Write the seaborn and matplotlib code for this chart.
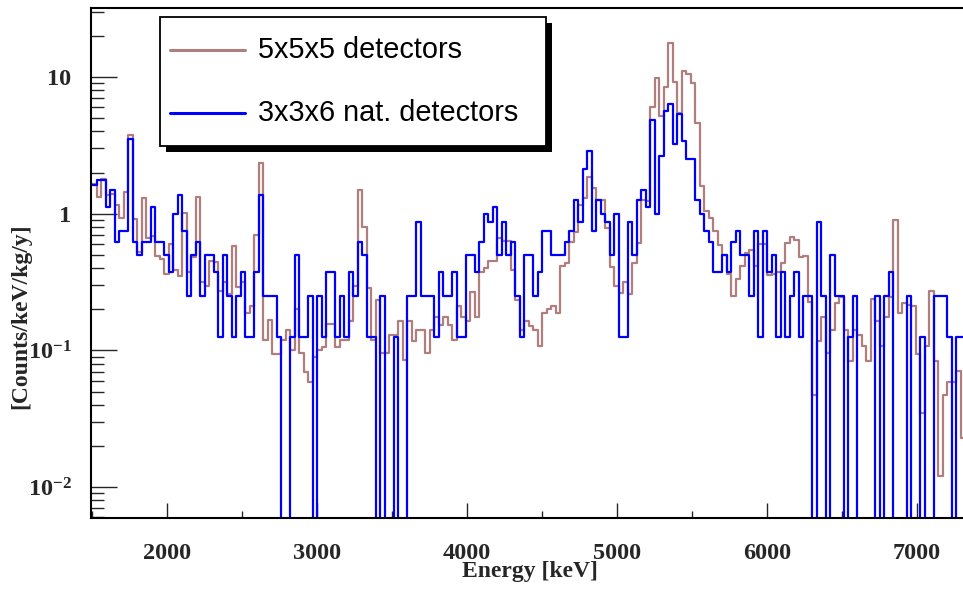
import numpy as np
import pandas as pd
import matplotlib
matplotlib.use("Agg")
import matplotlib.pyplot as plt
import matplotlib.ticker as mticker
from matplotlib.patches import Rectangle
from matplotlib.lines import Line2D
import seaborn as sns

# ---------------- data ----------------
bin_start = 1500.0   # keV, low edge of first bin
bin_width = 30.0     # keV
series_names = ["5x5x5 detectors", "3x3x6 nat. detectors"]

rate_5x5x5 = [
    1.64, 1.33, 1.79, 1.36, 1.39, 1.16, 0.925, 1.45, 3.77, 0.91,
    0.527, 1.30, 0.66, 0.69, 0.49, 0.47, 0.365, 0.60, 0.388, 0.35,
    1.02, 0.377, 0.485, 1.33, 0.318, 0.296, 0.453, 0.446, 0.273, 0.318,
    0.259, 0.58, 0.29, 0.315, 0.188, 0.212, 0.70, 2.34, 0.12, 0.166,
    0.094, 0.094, 0.12, 0.14, 0.10, 0.20, 0.096, 0.07, 0.059, 0.09,
    0.10, 0.106, 0.156, 0.156, 0.106, 0.119, 0.119, 0.165, 0.296, 1.49,
    0.80, 0.285, 0.119, 0.234, 0.096, 0.095, 0.129, 0.129, 0.164, 0.085,
    0.164, 0.118, 0.141, 0.141, 0.095, 0.141, 0.177, 0.153, 0.177, 0.153,
    0.119, 0.211, 0.177, 0.165, 0.269, 0.177, 0.376, 0.40, 0.453, 0.453,
    0.66, 0.63, 0.63, 0.39, 0.234, 0.141, 0.165, 0.15, 0.141, 0.107,
    0.189, 0.20, 0.211, 0.189, 0.417, 0.438, 0.624, 0.738, 1.157, 1.30,
    1.85, 1.53, 1.26, 1.25, 0.78, 0.41, 0.297, 0.262, 0.318, 0.26,
    0.438, 0.614, 1.27, 1.24, 6.06, 9.78, 5.19, 8.49, 17.6, 9.23,
    5.48, 11.1, 10.5, 9.0, 4.63, 1.59, 1.05, 0.925, 0.75, 0.59,
    0.50, 0.36, 0.25, 0.331, 0.414, 0.513, 0.543, 0.414, 0.60, 0.60,
    0.356, 0.36, 0.377, 0.434, 0.607, 0.672, 0.642, 0.485, 0.49, 0.227,
    0.047, 0.118, 0.177, 0.095, 0.141, 0.223, 0.247, 0.141, 0.083, 0.141,
    0.129, 0.108, 0.083, 0.236, 0.165, 0.108, 0.177, 0.247, 0.90, 0.189,
    0.223, 0.214, 0.21, 0.094, 0.035, 0.107, 0.273, 0.083, 0.012, 0.047,
    0.059, 0.059, 0.071, 0.023,
]

rate_3x3x6 = [
    1.625, 1.75, 1.75, 1.125, 1.5, 0.625, 0.75, 0.75, 3.5, 0.625,
    0.5, 0.625, 0.625, 1.125, 0.625, 0.625, 0.5, 0.375, 1.0, 1.375,
    0.75, 0.25, 0.5, 0.625, 0.25, 0.5, 0.5, 0.375, 0.125, 0.5,
    0.25, 0.125, 0.25, 0.375, 0.125, 0.125, 0.375, 1.375, 0.25, 0.25,
    0.25, 0.125, 0.0, 0.0, 0.125, 0.5, 0.125, 0.125, 0.25, 0.0,
    0.25, 0.125, 0.375, 0.375, 0.125, 0.25, 0.125, 0.375, 0.25, 0.625,
    0.5, 0.125, 0.125, 0.0, 0.25, 0.0, 0.0, 0.125, 0.0, 0.0,
    0.25, 0.25, 0.875, 0.25, 0.25, 0.25, 0.125, 0.375, 0.25, 0.25,
    0.375, 0.125, 0.125, 0.5, 0.5, 0.375, 0.625, 1.0, 0.875, 1.125,
    0.5, 0.875, 0.5, 0.625, 0.25, 0.125, 0.5, 0.5, 0.25, 0.375,
    0.75, 0.75, 0.5, 0.5, 0.5, 0.625, 0.75, 1.25, 0.875, 2.125,
    2.875, 0.75, 1.25, 1.0, 0.875, 0.5, 1.0, 0.125, 0.125, 0.875,
    0.5, 1.25, 1.5, 1.125, 4.875, 1.0, 2.625, 5.625, 6.375, 3.25,
    5.375, 3.375, 2.5, 2.5, 1.25, 1.0, 0.75, 0.625, 0.375, 0.375,
    0.5, 0.375, 0.625, 0.75, 0.5, 0.5, 0.25, 0.75, 0.125, 0.75,
    0.375, 0.5, 0.125, 0.375, 0.125, 0.25, 0.375, 0.125, 0.25, 0.25,
    0.0, 0.875, 0.25, 0.0, 0.5, 0.25, 0.25, 0.0, 0.125, 0.25,
    0.0, 0.0, 0.0, 0.0, 0.25, 0.0, 0.25, 0.375, 0.0, 0.0,
    0.0, 0.25, 0.0, 0.0, 0.125, 0.0, 0.0, 0.25, 0.25, 0.25,
    0.125, 0.0, 0.125, 0.125,
]

x_ticks = [2000, 3000, 4000, 5000, 6000, 7000]
y_ticks = [0.01, 0.1, 1, 10]
y_tick_labels = [r"$\mathbf{10^{-2}}$", r"$\mathbf{10^{-1}}$", "1", "10"]
x_label = "Energy [keV]"
y_label = "[Counts/keV/kg/y]"

# ---------------- style ----------------
sns.set_theme(style="white")
plt.rcParams["font.family"] = ["Liberation Serif", "DejaVu Serif"]
plt.rcParams["mathtext.fontset"] = "custom"
plt.rcParams["mathtext.rm"] = "Liberation Serif:bold"
plt.rcParams["mathtext.bf"] = "Liberation Serif:bold"
plt.rcParams["mathtext.it"] = "Liberation Serif:bold"

W, H = 963, 590
fig = plt.figure(figsize=(W / 100, H / 100), dpi=100)
fig.patch.set_facecolor("white")

ax_left, ax_right, ax_top, ax_bottom = 91, 968, 8, 518
ax = fig.add_axes([ax_left / W, (H - ax_bottom) / H,
                   (ax_right - ax_left) / W, (ax_bottom - ax_top) / H])
ax.set_facecolor("white")

colors = ["#b07e7c", "#0000ff"]

n_bins = len(rate_5x5x5)
edges = bin_start + bin_width * np.arange(n_bins + 1)
frames = []
for name, vals in zip(series_names, [rate_5x5x5, rate_3x3x6]):
    v = np.asarray(vals, dtype=float)
    frames.append(pd.DataFrame({
        "energy": edges,
        "rate": np.clip(np.append(v, v[-1]), 1e-4, None),
        "series": name,
    }))
df = pd.concat(frames, ignore_index=True)

for name, col, lw in zip(series_names, colors, [1.6, 1.6]):
    sns.lineplot(data=df[df["series"] == name], x="energy", y="rate",
                 drawstyle="steps-post", color=col, lw=lw, ax=ax,
                 estimator=None, sort=False, legend=False)

ax.set_yscale("log")
px_per_kev = 0.15
x0 = 2000 - (167 - ax_left) / px_per_kev
ax.set_xlim(x0, x0 + (ax_right - ax_left) / px_per_kev)
dec = 136.7
y_one = 213.7
ax.set_ylim(10 ** ((y_one - ax_bottom) / dec), 10 ** ((y_one - ax_top) / dec))

ax.grid(False)
for s in ["left", "bottom", "top"]:
    ax.spines[s].set_visible(True)
    ax.spines[s].set_color("black")
    ax.spines[s].set_linewidth(1.5)
ax.spines["right"].set_visible(False)

ax.set_xticks(x_ticks)
ax.set_xticklabels([str(t) for t in x_ticks])
ax.xaxis.set_minor_locator(mticker.MultipleLocator(500))
ax.set_yticks(y_ticks)
ax.set_yticklabels(y_tick_labels)
ax.yaxis.set_minor_locator(mticker.LogLocator(base=10, subs=np.arange(2, 10)))
ax.yaxis.set_minor_formatter(mticker.NullFormatter())

ax.tick_params(axis="y", which="major", direction="in", length=18.5, width=1.0,
               left=True, right=False, pad=14, labelsize=17.5)
ax.tick_params(axis="y", which="minor", direction="in", length=9.3, width=1.0,
               left=True, right=False)
ax.tick_params(axis="x", which="major", direction="in", length=10.5, width=1.0,
               bottom=True, top=False, pad=18, labelsize=17.5)
ax.tick_params(axis="x", which="minor", direction="in", length=5, width=1.0,
               bottom=True, top=False)
for lab in ax.get_xticklabels() + ax.get_yticklabels():
    lab.set_fontweight("bold")

ax.set_xlabel(x_label, fontsize=17, fontweight="bold", va="center")
ax.xaxis.set_label_coords((530 - ax_left) / (ax_right - ax_left),
                          (ax_bottom - 572) / (ax_bottom - ax_top))
ax.set_ylabel(y_label, fontsize=17, fontweight="bold", va="center")
ax.yaxis.set_label_coords((21 - ax_left) / (ax_right - ax_left),
                          (ax_bottom - 316) / (ax_bottom - ax_top))

# ---------------- legend (ROOT style box with shadow) ----------------
def fx(x):
    return x / W

def fy(y):
    return 1 - y / H

lx0, ly0, lx1, ly1 = 160, 17, 546, 146
sh = 6
fig.add_artist(Rectangle((fx(lx0 + sh), fy(ly1 + sh)), fx(lx1 - lx0), (ly1 - ly0) / H,
                         transform=fig.transFigure, facecolor="black",
                         edgecolor="none", zorder=5))
fig.add_artist(Rectangle((fx(lx0), fy(ly1)), fx(lx1 - lx0), (ly1 - ly0) / H,
                         transform=fig.transFigure, facecolor="white",
                         edgecolor="black", lw=1.3, zorder=6))
for name, col, yy in zip(series_names, colors, [50, 113]):
    fig.add_artist(Line2D([fx(170), fx(245)], [fy(yy), fy(yy)],
                          transform=fig.transFigure, color=col, lw=2.2, zorder=7))
    fig.text(fx(258), fy(yy), name, fontsize=20.8, va="center", ha="left",
             family=["Liberation Sans", "DejaVu Sans"], color="black", zorder=7)

fig.savefig("out.png", dpi=100, facecolor="white")
